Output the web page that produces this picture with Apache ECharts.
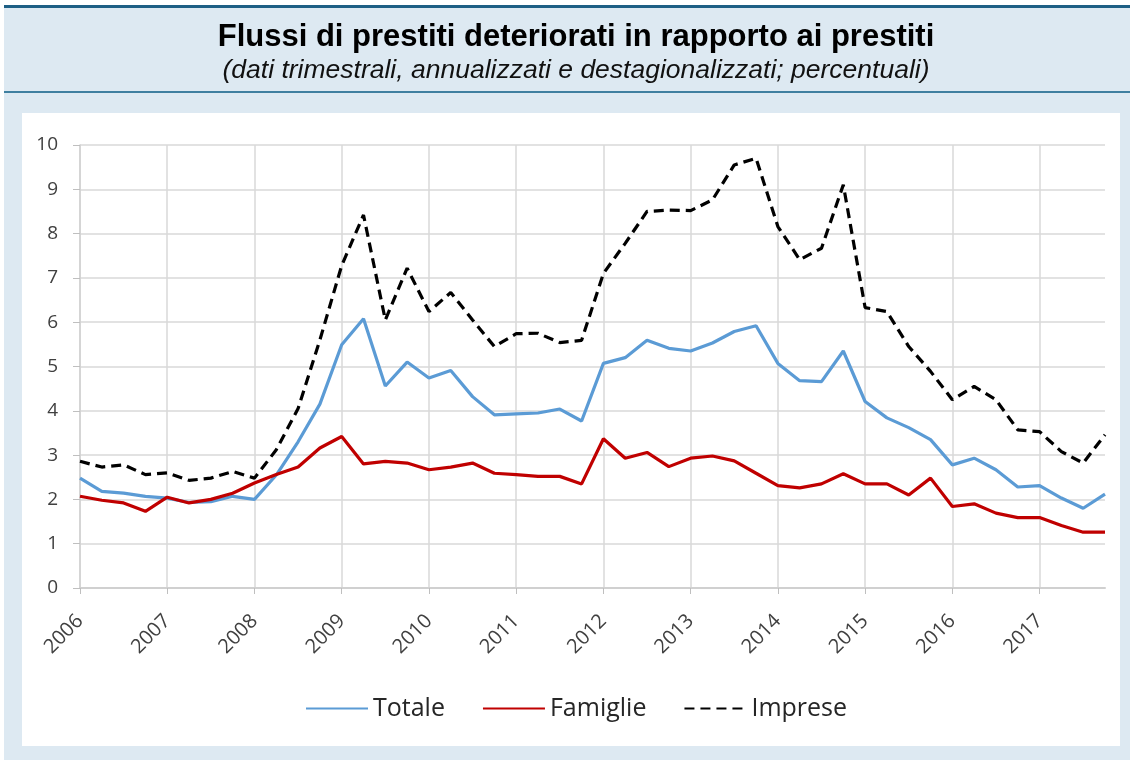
<!DOCTYPE html>
<html>
<head>
<meta charset="utf-8">
<script src="https://cdn.jsdelivr.net/npm/echarts@6/dist/echarts.min.js"></script>
<style>
  html, body { margin: 0; padding: 0; background: #fff; }
  #chart { width: 1130px; height: 760px; }
</style>
</head>
<body>
<div id="chart"></div>
<script>
// quarterly, 2006 Q1 .. 2017 Q4
const years = ['2006', '2007', '2008', '2009', '2010', '2011', '2012', '2013', '2014', '2015', '2016', '2017'];
const quarters = years.flatMap(y => ['T1', 'T2', 'T3', 'T4'].map(q => y + ' ' + q));

const totale = [2.48, 2.18, 2.14, 2.07, 2.03, 1.93, 1.95, 2.07, 2.0, 2.55, 3.3, 4.15,
    5.49, 6.08, 4.56, 5.10, 4.74, 4.91, 4.32, 3.91, 3.93, 3.95, 4.04, 3.77,
    5.07, 5.2, 5.59, 5.41, 5.35, 5.53, 5.79, 5.92, 5.07, 4.68, 4.66, 5.35,
    4.21, 3.84, 3.62, 3.35, 2.78, 2.93, 2.67, 2.28, 2.31, 2.03, 1.80, 2.12];
const famiglie = [2.07, 1.98, 1.92, 1.73, 2.05, 1.92, 2.0, 2.14, 2.37, 2.56, 2.73, 3.16,
    3.42, 2.80, 2.86, 2.82, 2.67, 2.73, 2.82, 2.59, 2.56, 2.52, 2.52, 2.35,
    3.37, 2.93, 3.06, 2.74, 2.93, 2.98, 2.87, 2.59, 2.31, 2.26, 2.35, 2.58,
    2.35, 2.35, 2.1, 2.48, 1.84, 1.9, 1.69, 1.59, 1.59, 1.41, 1.26, 1.26];
const imprese = [2.86, 2.73, 2.78, 2.56, 2.6, 2.43, 2.48, 2.63, 2.48, 3.12, 4.05, 5.6,
    7.28, 8.42, 6.05, 7.22, 6.24, 6.67, 6.05, 5.45, 5.74, 5.75, 5.54, 5.59,
    7.1, 7.78, 8.5, 8.53, 8.52, 8.76, 9.55, 9.7, 8.16, 7.41, 7.67, 9.1,
    6.33, 6.24, 5.45, 4.89, 4.25, 4.55, 4.25, 3.57, 3.53, 3.08, 2.82, 3.46];

const axisFont = "'Open Sans', sans-serif";
const gridColor = '#d9d9d9';

const chart = echarts.init(document.getElementById('chart'), null, { renderer: 'canvas' });
chart.setOption({
    animation: false,
    backgroundColor: '#ffffff',
    graphic: [
        { type: 'rect', z: -10, shape: { x: 4, y: 8, width: 1126, height: 752 }, style: { fill: '#dde9f2' } },
        { type: 'rect', z: -9, shape: { x: 4, y: 5, width: 1126, height: 3 }, style: { fill: '#1d5f85' } },
        { type: 'rect', z: -9, shape: { x: 4, y: 91, width: 1126, height: 2 }, style: { fill: '#3f7fa0' } },
        { type: 'rect', z: -9, shape: { x: 22, y: 113, width: 1098, height: 633 }, style: { fill: '#ffffff' } }
    ],
    title: {
        text: 'Flussi di prestiti deteriorati in rapporto ai prestiti',
        subtext: '(dati trimestrali, annualizzati e destagionalizzati; percentuali)',
        left: 571,
        textAlign: 'center',
        top: 17,
        itemGap: 4,
        textStyle: { fontFamily: "'Liberation Sans', Arial, sans-serif", fontSize: 31, fontWeight: 'bold', color: '#000' },
        subtextStyle: { fontFamily: "'Liberation Sans', Arial, sans-serif", fontSize: 26.5, fontStyle: 'italic', color: '#111' }
    },
    legend: {
        left: 300,
        top: 691,
        itemWidth: 62,
        itemHeight: 4,
        itemGap: 37,
        itemStyle: { opacity: 0 },
        textStyle: { fontFamily: axisFont, fontSize: 25, color: '#262626' },
        data: ['Totale', 'Famiglie', 'Imprese']
    },
    grid: { left: 80, right: 25, top: 145, bottom: 172 },
    xAxis: {
        type: 'category',
        data: quarters,
        boundaryGap: false,
        axisLine: { lineStyle: { color: '#d0d0d0', width: 2 } },
        axisTick: { show: true, interval: 3, length: 6, lineStyle: { color: '#bfbfbf' } },
        axisLabel: {
            interval: 3,
            rotate: 45,
            margin: 30,
            fontFamily: axisFont,
            fontSize: 20,
            color: '#404040',
            formatter: v => v.slice(0, 4)
        },
        splitLine: { show: true, interval: 3, lineStyle: { color: gridColor, width: 1.5 } }
    },
    yAxis: {
        type: 'value',
        min: 0,
        max: 10,
        interval: 1,
        axisLine: { show: true, lineStyle: { color: '#d0d0d0', width: 1.5 } },
        axisTick: { show: true, length: 7, lineStyle: { color: '#bfbfbf' } },
        axisLabel: { margin: 22, fontFamily: axisFont, fontSize: 19, color: '#404040' },
        splitLine: { lineStyle: { color: gridColor, width: 1.5 } }
    },
    series: [
        {
            name: 'Totale', type: 'line', data: totale, symbol: 'none',
            lineStyle: { color: '#5b9bd5', width: 3.2 }, itemStyle: { color: '#5b9bd5' }
        },
        {
            name: 'Famiglie', type: 'line', data: famiglie, symbol: 'none',
            lineStyle: { color: '#c00000', width: 3.2 }, itemStyle: { color: '#c00000' }
        },
        {
            name: 'Imprese', type: 'line', data: imprese, symbol: 'none',
            lineStyle: { color: '#000000', width: 3.2, type: [10, 6] }, itemStyle: { color: '#000000' }
        }
    ]
});
</script>
</body>
</html>
